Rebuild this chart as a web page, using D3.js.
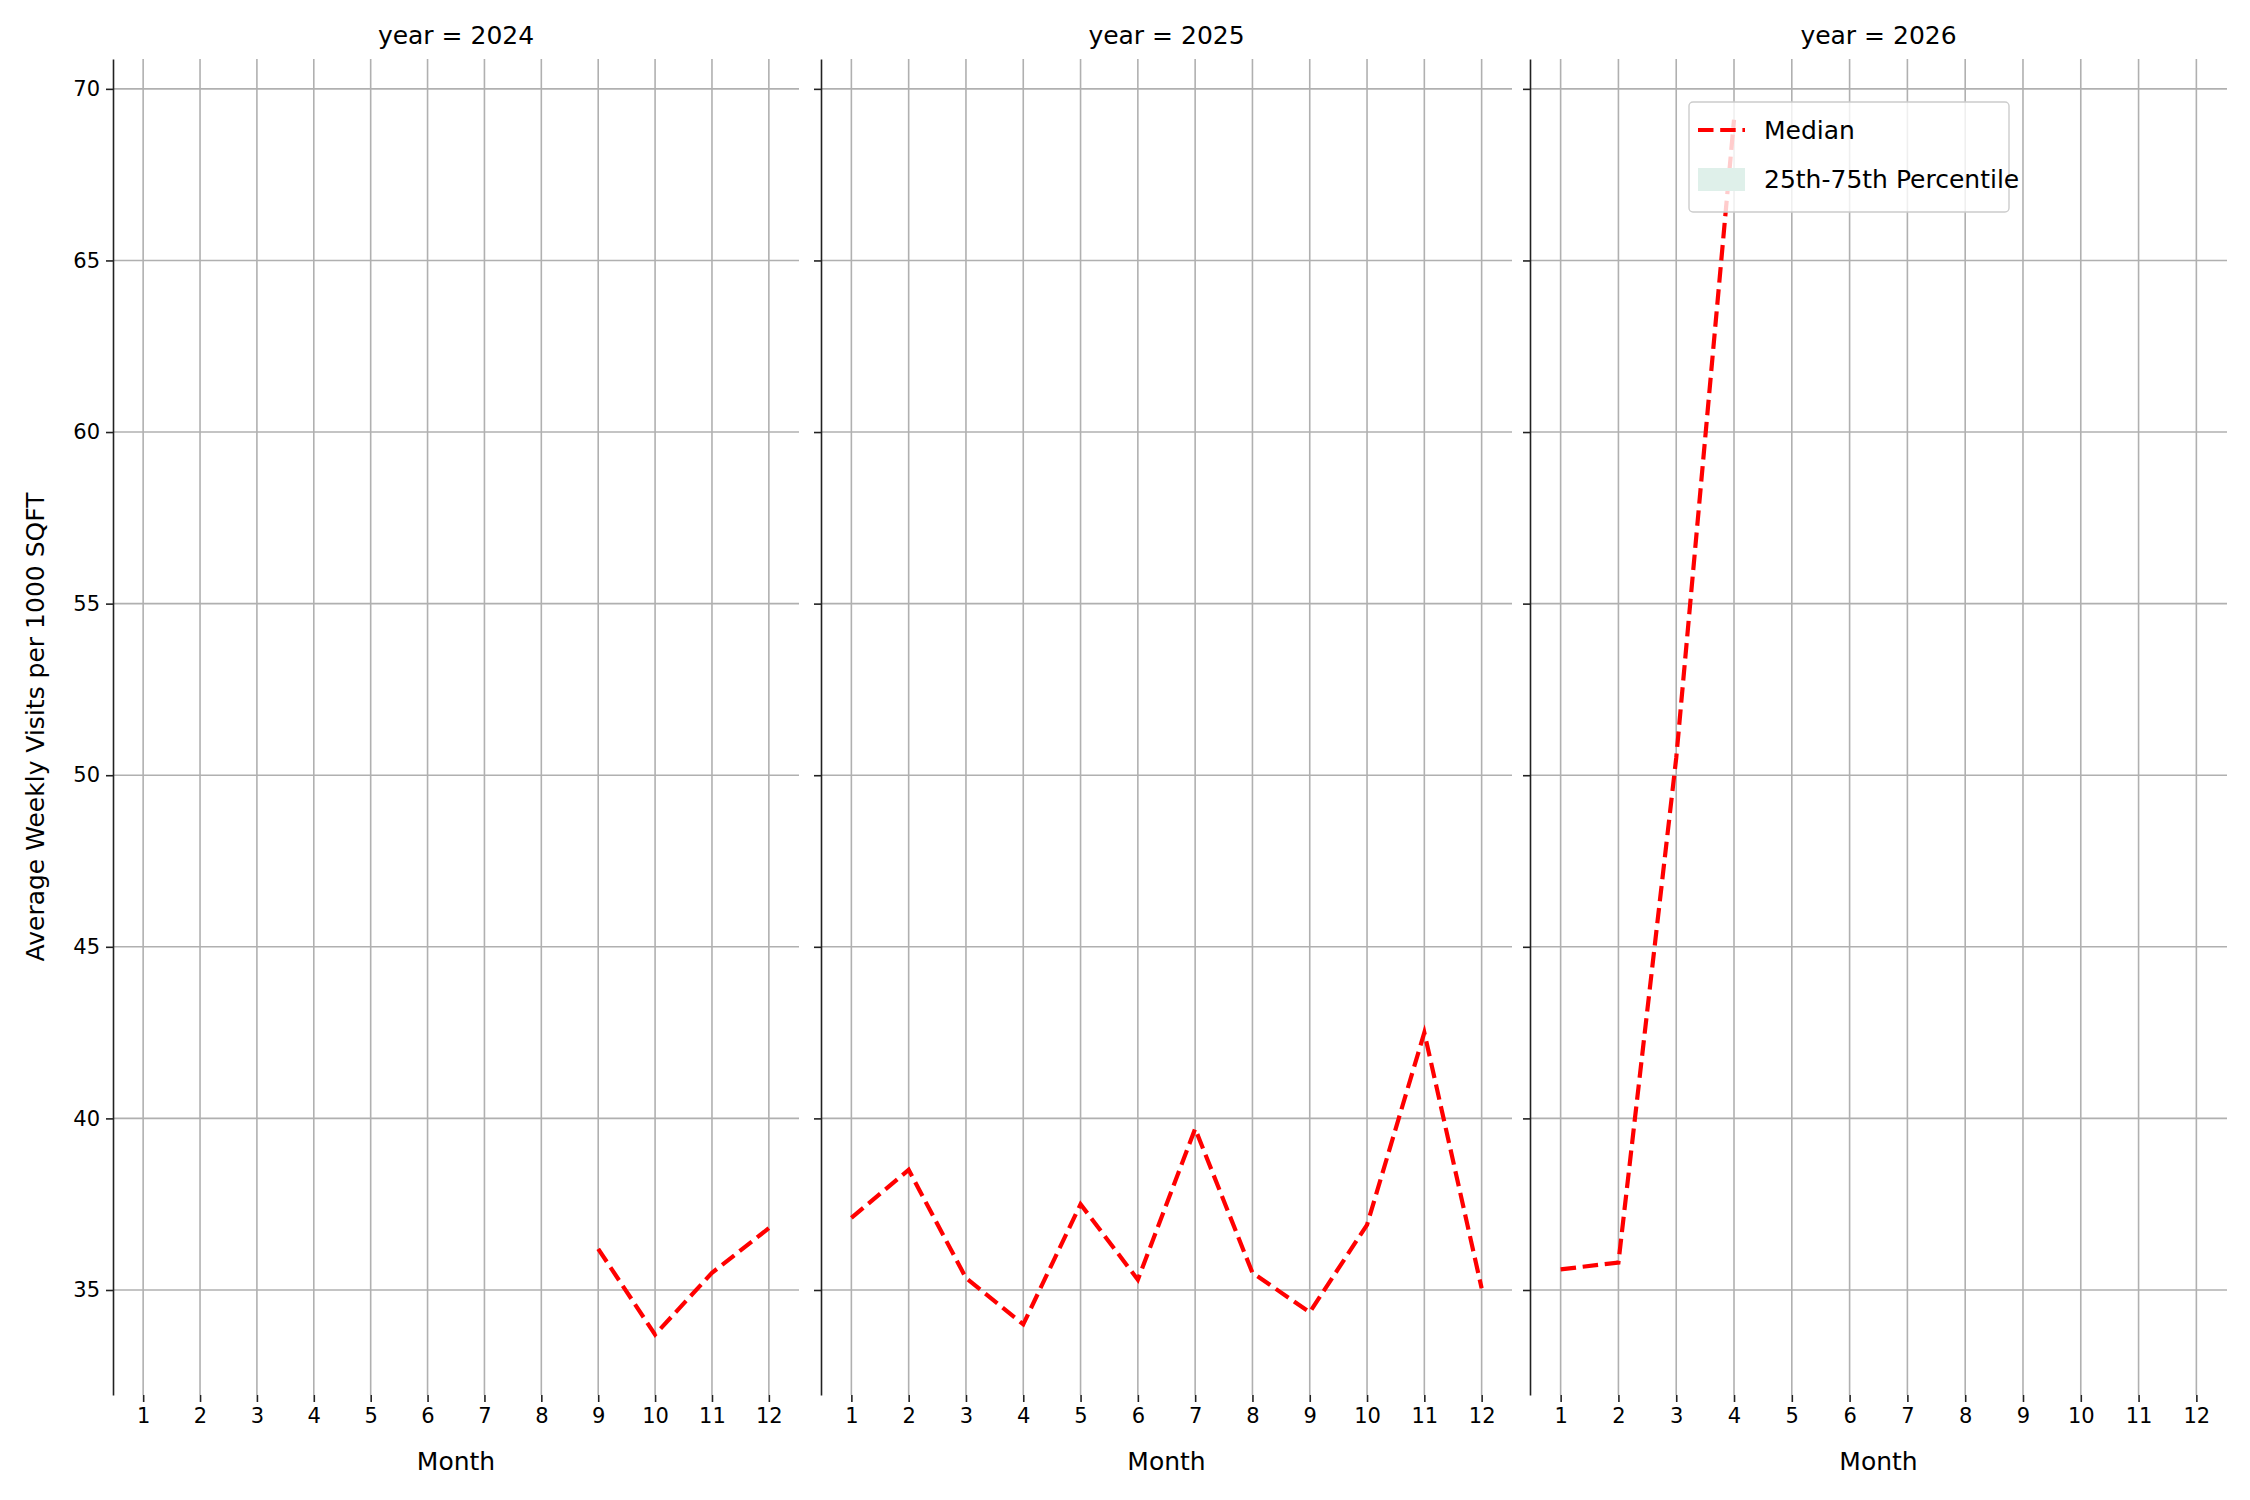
<!DOCTYPE html>
<html><head><meta charset="utf-8">
<script src="https://cdn.jsdelivr.net/npm/d3@7"></script>
<style>body{margin:0;background:#fff}text{font-family:"DejaVu Sans",sans-serif}</style>
</head><body>
<script>
const years = [2024, 2025, 2026];
const months = [1,2,3,4,5,6,7,8,9,10,11,12];
const median2024 = [null,null,null,null,null,null,null,null,36.2,33.7,35.5,36.8];
const median2025 = [37.1,38.5,35.35,34.0,37.5,35.3,39.7,35.5,34.35,36.9,42.5,35.05];
const median2026 = [35.6,35.8,50.5,69.1,null,null,null,null,null,null,null,null];
const yTicks = [35,40,45,50,55,60,65,70];
const series = [median2024, median2025, median2026];

const W = 2250, H = 1500;
const panels = [[113, 799], [821, 1512], [1530, 2227]];
const plotTop = 59, plotBottom = 1395;
const svg = d3.select("body").append("svg").attr("width", W).attr("height", H);
const y = d3.scaleLinear().domain([31.94, 70.87]).range([plotBottom, plotTop]);

years.forEach((yr, i) => {
  const [x0, x1] = panels[i];
  const x = d3.scaleLinear().domain([0.47, 12.53]).range([x0, x1]);
  const g = svg.append("g");
  // grid
  g.selectAll(".vg").data(months).enter().append("line")
    .attr("x1", d => x(d)).attr("x2", d => x(d)).attr("y1", plotTop).attr("y2", plotBottom)
    .attr("stroke", "#b0b0b0").attr("stroke-width", 1.6);
  g.selectAll(".hg").data(yTicks).enter().append("line")
    .attr("x1", x0).attr("x2", x1).attr("y1", d => y(d)).attr("y2", d => y(d))
    .attr("stroke", "#b0b0b0").attr("stroke-width", 1.6);
  // axes
  const xa = g.append("g").attr("transform", `translate(0,${plotBottom})`)
    .call(d3.axisBottom(x).tickValues(months).tickSize(7).tickPadding(6).tickSizeOuter(0));
  const ya = g.append("g").attr("transform", `translate(${x0},0)`)
    .call(d3.axisLeft(y).tickValues(yTicks).tickSize(7).tickPadding(6).tickSizeOuter(0)
      .tickFormat(i === 0 ? d3.format("d") : () => ""));
  [xa, ya].forEach(a => {
    a.selectAll("text").attr("font-size", 21).attr("fill", "#000");
    a.selectAll("line").attr("stroke", "#222").attr("stroke-width", 1.6);
  });
  xa.select(".domain").remove();
  ya.select(".domain").attr("stroke", "#222").attr("stroke-width", 1.6);
  // line
  const line = d3.line().defined(d => d.v != null).x(d => x(d.m)).y(d => y(d.v));
  g.append("path").datum(months.map((m, k) => ({m, v: series[i][k]})))
    .attr("d", line).attr("fill", "none").attr("stroke", "red")
    .attr("stroke-width", 4.2).attr("stroke-dasharray", "15.5,6.7");
  g.append("text").attr("x", (x0 + x1) / 2).attr("y", 44).attr("text-anchor", "middle")
    .attr("font-size", 25).text(`year = ${yr}`);
  g.append("text").attr("x", (x0 + x1) / 2).attr("y", 1470).attr("text-anchor", "middle")
    .attr("font-size", 25).text("Month");
});

svg.append("text").attr("transform", `translate(44,${(plotTop + plotBottom) / 2}) rotate(-90)`)
  .attr("text-anchor", "middle").attr("font-size", 25).text("Average Weekly Visits per 1000 SQFT");

// legend
const lg = svg.append("g").attr("transform", "translate(1689,102)");
lg.append("rect").attr("width", 320).attr("height", 110).attr("rx", 4)
  .attr("fill", "rgba(255,255,255,0.8)").attr("stroke", "#ccc").attr("stroke-width", 1.4);
lg.append("line").attr("x1", 9).attr("x2", 56).attr("y1", 28).attr("y2", 28)
  .attr("stroke", "red").attr("stroke-width", 4.2).attr("stroke-dasharray", "15.5,6.7");
lg.append("rect").attr("x", 9).attr("y", 66).attr("width", 47).attr("height", 23).attr("fill", "#dff0ea");
lg.append("text").attr("x", 75).attr("y", 37).attr("font-size", 25).text("Median");
lg.append("text").attr("x", 75).attr("y", 86).attr("font-size", 25).text("25th-75th Percentile");
</script>
</body></html>
